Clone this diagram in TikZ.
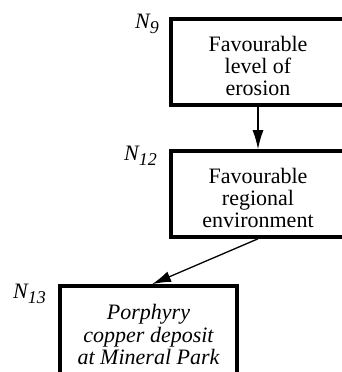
\documentclass[tikz,border=0pt]{standalone}
\usepackage{fontspec}
\setmainfont{Liberation Serif}
\usetikzlibrary{arrows.meta}
\tikzset{
  boxnode/.style={draw, line width=3.6pt, rectangle, minimum width=174pt, minimum height=86pt, inner sep=0pt, align=center, font=\fontsize{22}{21.8}\selectfont},
  widebox/.style={boxnode, minimum width=190pt},
  lbl/.style={anchor=base west, inner sep=0pt, font=\fontsize{22}{22}\selectfont\itshape},
  conn/.style={line width=1.3pt, -{Latex[length=19pt,width=11pt]}}
}
\newcommand{\nlabel}[1]{N\raisebox{-5pt}{\fontsize{18}{18}\selectfont #1}}
\newcommand{\lftext}[1]{\begin{tabular}{@{}c@{}}#1\end{tabular}\kern16pt}
\begin{document}
\begin{tikzpicture}[x=1pt,y=-1pt]
\useasboundingbox (0,0) rectangle (342,372);
\node[widebox] (b1) at (266,62) {\lftext{\rule{0pt}{29.5pt}Favourable\\level of\\erosion}};
\node[widebox] (b2) at (266,194) {\lftext{\rule{0pt}{29.5pt}Favourable\\regional\\environment}};
\node[boxnode, minimum width=177pt, minimum height=92pt, font=\fontsize{22}{22.5}\selectfont\itshape] (b3) at (148.5,332) {\rule{0pt}{21pt}Porphyry\\copper deposit\\at Mineral Park};
\node[lbl] (l9) at (135,28) {\nlabel{9}};
\node[lbl] (l12) at (124,160) {\nlabel{12}};
\node[lbl] (l13) at (13,298) {\nlabel{13}};
\draw[conn] ([xshift=-8pt]b1.south) -- ([xshift=-8pt]b2.north);
\draw[conn] ([xshift=-8pt]b2.south) -- ([xshift=3.5pt]b3.north);
\end{tikzpicture}
\end{document}
